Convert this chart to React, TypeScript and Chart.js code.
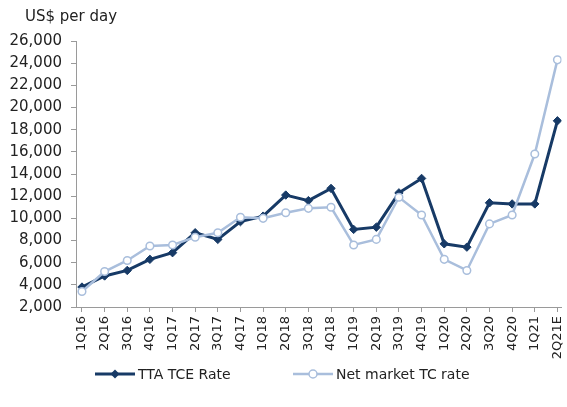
import React, { useEffect, useRef } from 'react';
import { Chart, registerables } from 'chart.js';

Chart.register(...registerables);

const categories = ['1Q16', '2Q16', '3Q16', '4Q16', '1Q17', '2Q17', '3Q17', '4Q17', '1Q18', '2Q18', '3Q18', '4Q18', '1Q19', '2Q19', '3Q19', '4Q19', '1Q20', '2Q20', '3Q20', '4Q20', '1Q21', '2Q21E'];
const ttaTceRate = [3800, 4800, 5300, 6300, 6900, 8700, 8100, 9700, 10200, 12100, 11600, 12700, 9000, 9200, 12300, 13600, 7700, 7400, 11400, 11300, 11300, 18800];
const netMarketTcRate = [3400, 5200, 6200, 7500, 7600, 8300, 8700, 10100, 10000, 10500, 10900, 11000, 7600, 8100, 11900, 10300, 6300, 5300, 9500, 10300, 15800, 24300];
const yMin = 2000;
const yMax = 26000;
const yStep = 2000;
const unitLabel = 'US$ per day';

const DARK = '#173a66';
const LIGHT = '#a9bedc';
const TEXT = '#222222';
const AXIS = '#9a9a9a';
const FONT = '"DejaVu Sans", Verdana, sans-serif';

const overlayPlugin = {
  id: 'overlay',
  afterDraw(chart: any) {
    const ctx = chart.ctx as CanvasRenderingContext2D;
    ctx.save();
    ctx.fillStyle = TEXT;
    ctx.textBaseline = 'middle';
    ctx.textAlign = 'left';
    ctx.font = `15px ${FONT}`;
    ctx.fillText(unitLabel, 25, 17);

    const ly = 374;
    const items = [
      { x: 95, ds: chart.data.datasets[0] },
      { x: 293, ds: chart.data.datasets[1] },
    ];
    ctx.font = `14px ${FONT}`;
    for (const it of items) {
      const ds = it.ds;
      ctx.strokeStyle = ds.borderColor;
      ctx.lineWidth = ds.borderWidth;
      ctx.beginPath();
      ctx.moveTo(it.x, ly);
      ctx.lineTo(it.x + 40, ly);
      ctx.stroke();
      const cx = it.x + 20;
      if (ds.pointStyle === 'rectRot') {
        ctx.fillStyle = ds.backgroundColor;
        ctx.beginPath();
        ctx.moveTo(cx, ly - 4.5);
        ctx.lineTo(cx + 4.5, ly);
        ctx.lineTo(cx, ly + 4.5);
        ctx.lineTo(cx - 4.5, ly);
        ctx.closePath();
        ctx.fill();
      } else {
        ctx.fillStyle = '#ffffff';
        ctx.lineWidth = 1.5;
        ctx.beginPath();
        ctx.arc(cx, ly, 4, 0, Math.PI * 2);
        ctx.fill();
        ctx.stroke();
      }
      ctx.fillStyle = TEXT;
      ctx.fillText(ds.label, it.x + 43, ly + 1);
    }
    ctx.restore();
  },
};

export default function App() {
  const ref = useRef<HTMLCanvasElement>(null);

  useEffect(() => {
    if (!ref.current) return;
    Chart.defaults.font.family = FONT;
    const chart = new Chart(ref.current, {
      type: 'line',
      data: {
        datasets: [
          {
            label: 'TTA TCE Rate',
            data: ttaTceRate.map((y, i) => ({ x: i, y })),
            borderColor: DARK,
            backgroundColor: DARK,
            borderWidth: 3,
            pointStyle: 'rectRot',
            pointRadius: 4.2,
            pointBorderWidth: 1,
            pointBorderColor: DARK,
            pointBackgroundColor: DARK,
            tension: 0,
            order: 2,
          },
          {
            label: 'Net market TC rate',
            data: netMarketTcRate.map((y, i) => ({ x: i, y })),
            borderColor: LIGHT,
            backgroundColor: '#ffffff',
            borderWidth: 2.5,
            pointStyle: 'circle',
            pointRadius: 3.8,
            pointBorderWidth: 1.5,
            pointBorderColor: LIGHT,
            pointBackgroundColor: '#ffffff',
            tension: 0,
            order: 1,
          },
        ],
      } as any,
      options: {
        animation: false,
        responsive: true,
        maintainAspectRatio: false,
        layout: { padding: { top: 41, right: 3, left: 0, bottom: 0 } },
        plugins: {
          legend: { display: false },
          title: { display: false },
          tooltip: { enabled: false },
        },
        scales: {
          x: {
            type: 'linear',
            min: -0.264,
            max: 21.18,
            afterBuildTicks: (axis: any) => {
              axis.ticks = categories.map((_, i) => ({ value: i }));
            },
            afterFit: (axis: any) => {
              axis.height = 100;
              axis.paddingLeft = 0;
              axis.paddingRight = 0;
            },
            grid: {
              display: true,
              drawOnChartArea: false,
              drawTicks: true,
              tickLength: 5,
              color: AXIS,
            },
            border: { display: true, color: AXIS, width: 1 },
            ticks: {
              autoSkip: false,
              minRotation: 90,
              maxRotation: 90,
              padding: 4,
              color: TEXT,
              font: { size: 13, family: FONT },
              callback: (v: any) => categories[Math.round(Number(v))] ?? '',
            },
          },
          y: {
            min: yMin,
            max: yMax,
            afterFit: (axis: any) => {
              axis.width = 76;
              axis.paddingTop = 0;
              axis.paddingBottom = 0;
            },
            grid: {
              display: true,
              drawOnChartArea: false,
              drawTicks: true,
              tickLength: 5,
              color: AXIS,
            },
            border: { display: true, color: AXIS, width: 1 },
            ticks: {
              stepSize: yStep,
              padding: 9,
              color: TEXT,
              font: { size: 15, family: FONT },
              callback: (v: any) => Number(v).toLocaleString('en-US'),
            },
          },
        },
      },
      plugins: [overlayPlugin],
    } as any);
    return () => chart.destroy();
  }, []);

  return (
    <div style={{ position: 'absolute', left: 0, top: 0, width: 567, height: 407, background: '#fff' }}>
      <canvas ref={ref} />
    </div>
  );
}
